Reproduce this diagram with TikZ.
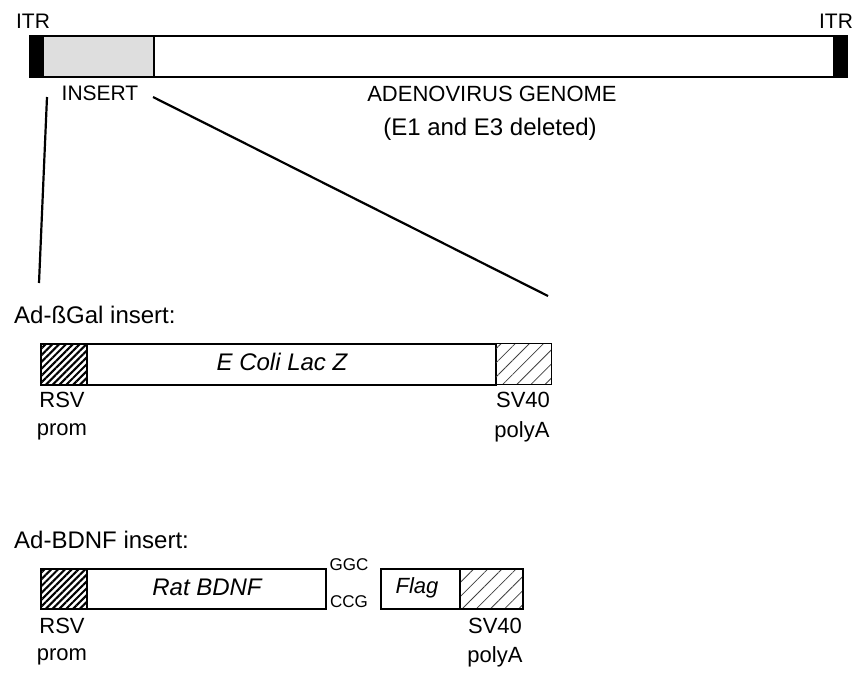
\documentclass[tikz,border=0pt]{standalone}
\usepackage{fontspec}
\setmainfont{Liberation Sans}
\usetikzlibrary{patterns.meta}
\begin{document}
\begin{tikzpicture}[x=1pt,y=-1pt,
  caps/.style={inner sep=0pt, font=\fontsize{21}{24}\selectfont},
  lbl/.style={inner sep=0pt, font=\fontsize{22}{26}\selectfont},
  big/.style={inner sep=0pt, font=\fontsize{24}{28}\selectfont},
  ital/.style={inner sep=0pt, font=\fontsize{24}{28}\selectfont\itshape},
  small/.style={inner sep=0pt, font=\fontsize{17}{20}\selectfont},
  seg/.style={draw, line width=1.6pt, inner sep=0pt, anchor=north west},
  dark/.style={seg, pattern={Lines[angle=45, distance=4.8pt, line width=2.1pt]}},
  light/.style={seg, pattern={Lines[angle=45, distance=10pt, line width=0.8pt]}, pattern color=black!75},
  conn/.style={line width=2.2pt}
]
\useasboundingbox (0,0) rectangle (856,675);
% genome bar
\node[seg, fill=white, minimum width=817pt, minimum height=41pt] (genome) at (29,35) {};
\node[seg, fill=black, minimum width=13pt, minimum height=41pt] (itrL) at (29,35) {};
\node[seg, fill=black!13, minimum width=111pt, minimum height=41pt] (insert) at (42,35) {};
\node[seg, fill=black, minimum width=13pt, minimum height=41pt] (itrR) at (833,35) {};
\node[caps] (itrLt) at (33,21) {ITR};
\node[caps] (itrRt) at (836,21) {ITR};
\node[caps] (insertt) at (100,93) {INSERT};
\node[caps, font=\fontsize{22}{26}\selectfont] (adeno) at (492,94) {ADENOVIRUS GENOME};
\node[big] (e1e3) at (490,129) {(E1 and E3 deleted)};
% zoom lines
\coordinate (zl1) at (47,97);
\coordinate (zl2) at (39,283);
\coordinate (zr1) at (153,97);
\coordinate (zr2) at (548,296);
\draw[conn] (zl1) -- (zl2);
\draw[conn] (zr1) -- (zr2);
% Ad-bGal
\node[big, anchor=base west] (galt) at (14,323) {Ad-ßGal insert:};
\node[dark, minimum width=46pt, minimum height=41pt] (rsv1) at (40,343) {};
\node[seg, fill=white, minimum width=409pt, minimum height=41pt] (lacz) at (86,343) {};
\node[ital] (laczt) at (282,362) {E Coli Lac Z};
\node[light, minimum width=56pt, minimum height=41pt] (sv1) at (495,343) {};
\node[lbl] (rsv1t) at (62,400) {RSV};
\node[lbl] (prom1t) at (62,432) {prom};
\node[lbl] (sv1t) at (523,400) {SV40};
\node[lbl] (pa1t) at (522,432) {polyA};
% Ad-BDNF
\node[big, anchor=base west] (bdnft) at (14,548) {Ad-BDNF insert:};
\node[dark, minimum width=46pt, minimum height=40pt] (rsv2) at (40,568) {};
\node[seg, fill=white, minimum width=239pt, minimum height=40pt] (bdnf) at (86,568) {};
\node[ital] (bdnftx) at (207,587) {Rat BDNF};
\node[small] (ggc) at (349,565) {GGC};
\node[small] (ccg) at (349,602) {CCG};
\node[seg, fill=white, minimum width=79pt, minimum height=40pt] (flag) at (380,568) {};
\node[ital, font=\fontsize{22}{26}\selectfont\itshape] (flagt) at (417,588) {Flag};
\node[light, minimum width=63pt, minimum height=40pt] (sv2) at (459,568) {};
\node[lbl] (rsv2t) at (62,626) {RSV};
\node[lbl] (prom2t) at (62,657) {prom};
\node[lbl] (sv2t) at (495,626) {SV40};
\node[lbl] (pa2t) at (495,657) {polyA};
\end{tikzpicture}
\end{document}
